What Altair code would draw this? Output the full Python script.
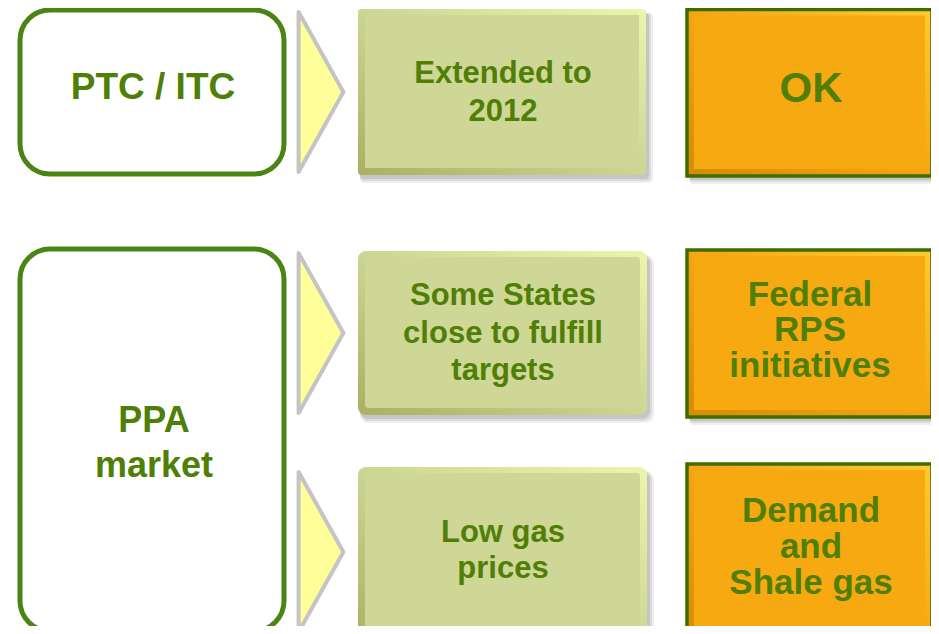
import altair as alt
import pandas as pd

# ---- diagram data (image-pixel coordinates) ----
box_ids = ["ptc", "ppa", "ext", "states", "gas", "ok", "rps", "shale"]
box_kind = ["outline", "outline", "green", "green", "green", "orange", "orange", "orange"]
box_x0 = [20, 20, 358, 358, 358, 687, 687, 687]
box_x1 = [284, 284, 646, 647, 647, 932, 932, 932]
box_y0 = [10, 249, 9, 251, 467, 9.5, 250, 464]
box_y1 = [174, 631, 175, 415, 650, 176, 417, 650]
box_labels = [
    "PTC / ITC",
    "PPA\nmarket",
    "Extended to\n2012",
    "Some States\nclose to fulfill\ntargets",
    "Low gas\nprices",
    "OK",
    "Federal\nRPS\ninitiatives",
    "Demand\nand\nShale gas",
]
label_x = [153, 154, 503, 503, 503, 811, 810, 811]
label_y = [99, 432, 83, 305, 542, 102, 306, 522]   # first-line baselines

arrow_x = [321, 321, 321]
arrow_y = [92, 333, 552]

boxes = pd.DataFrame(dict(id=box_ids, kind=box_kind, x0=box_x0, x1=box_x1,
                          y0=box_y0, y1=box_y1, label=box_labels,
                          lx=label_x, ly=label_y))
arrows = pd.DataFrame(dict(ax=arrow_x, ay=arrow_y))

W, H = 923, 618
XS = alt.Scale(domain=[8, 8 + W], nice=False, zero=False)
YS = alt.Scale(domain=[8, 8 + H], reverse=True, nice=False, zero=False)

TEXT_GREEN = "#4F7F06"


def rects(ids, **kw):
    return (
        alt.Chart(boxes)
        .transform_filter(alt.FieldOneOfPredicate(field="id", oneOf=ids))
        .mark_rect(**kw)
        .encode(
            x=alt.X("x0:Q", scale=XS, axis=None),
            x2="x1:Q",
            y=alt.Y("y0:Q", scale=YS, axis=None),
            y2="y1:Q",
        )
    )


def grad(dark, mid, light):
    return alt.LinearGradient(
        gradient="linear", x1=0, y1=1, x2=1, y2=0,
        stops=[alt.GradientStop(color=dark, offset=0),
               alt.GradientStop(color=mid, offset=0.5),
               alt.GradientStop(color=light, offset=1)],
    )


layers = []
# outline (white rounded) boxes
layers.append(rects(["ptc", "ppa"], fill="white", stroke="#4A8412", strokeWidth=5,
                    cornerRadius=30))

# soft shadows
for off, op in [(7, 0.12), (5, 0.18), (3, 0.22)]:
    layers.append(rects(["ext", "ok", "rps", "shale"], fill="#7a7a7a", opacity=op,
                        xOffset=2, x2Offset=off, yOffset=4, y2Offset=off + 1,
                        cornerRadius=4))
    layers.append(rects(["states", "gas"], fill="#7a7a7a", opacity=op,
                        xOffset=2, x2Offset=off, yOffset=4, y2Offset=off + 1,
                        cornerRadius=9))

# green bevel boxes
layers.append(rects(["ext"], fill=grad("#A9B062", "#CDD593", "#EDF4AC"), cornerRadius=3))
layers.append(rects(["states", "gas"], fill=grad("#A9B062", "#CDD593", "#EDF4AC"),
                    cornerRadius=8))
layers.append(rects(["ext"], fill="#CFD796", xOffset=7, x2Offset=-7, yOffset=6,
                    y2Offset=-7))
layers.append(rects(["states", "gas"], fill="#CFD796", xOffset=7, x2Offset=-7,
                    yOffset=6, y2Offset=-7, cornerRadius=3))

# orange bevel boxes
layers.append(rects(["ok", "rps", "shale"], fill=grad("#D38D00", "#F4A610", "#FFCB30")))
layers.append(rects(["ok", "rps", "shale"], fill="#F7A912", xOffset=7, x2Offset=-7,
                    yOffset=6, y2Offset=-7))
layers.append(rects(["ok", "rps", "shale"], fill=None, fillOpacity=0, stroke="#3F6B00",
                    strokeWidth=3.5))

# arrows (tall triangles)
layers.append(
    alt.Chart(arrows)
    .mark_point(shape="M-0.28,-1L0.28,0L-0.28,1Z", size=25600, filled=True,
                fill="#FFFF99", stroke="#C4C4C4", strokeWidth=4, opacity=1,
                strokeJoin="round")
    .encode(x=alt.X("ax:Q", scale=XS, axis=None), y=alt.Y("ay:Q", scale=YS, axis=None))
)

# labels
text_styles = {
    "ptc": (37, 40),
    "ppa": (36, 45),
    "ext": (31, 38),
    "states": (31, 37.5),
    "gas": (31, 36),
    "ok": (42, 44),
    "rps": (35, 35.3),
    "shale": (35, 35.8),
}
for bid, (fs, lh) in text_styles.items():
    layers.append(
        alt.Chart(boxes)
        .transform_filter(alt.datum.id == bid)
        .mark_text(font="Liberation Sans", fontWeight="bold", fontSize=fs,
                   lineHeight=lh, color=TEXT_GREEN, align="center",
                   baseline="alphabetic", lineBreak="\n")
        .encode(x=alt.X("lx:Q", scale=XS, axis=None),
                y=alt.Y("ly:Q", scale=YS, axis=None),
                text="label:N")
    )

chart = (
    alt.layer(*layers)
    .properties(width=W, height=H, padding=0, background="white",
                autosize=alt.AutoSizeParams(type="none"))
    .configure_view(stroke=None)
)

chart.save("out.html", embed_options={"renderer": "svg", "actions": False})
